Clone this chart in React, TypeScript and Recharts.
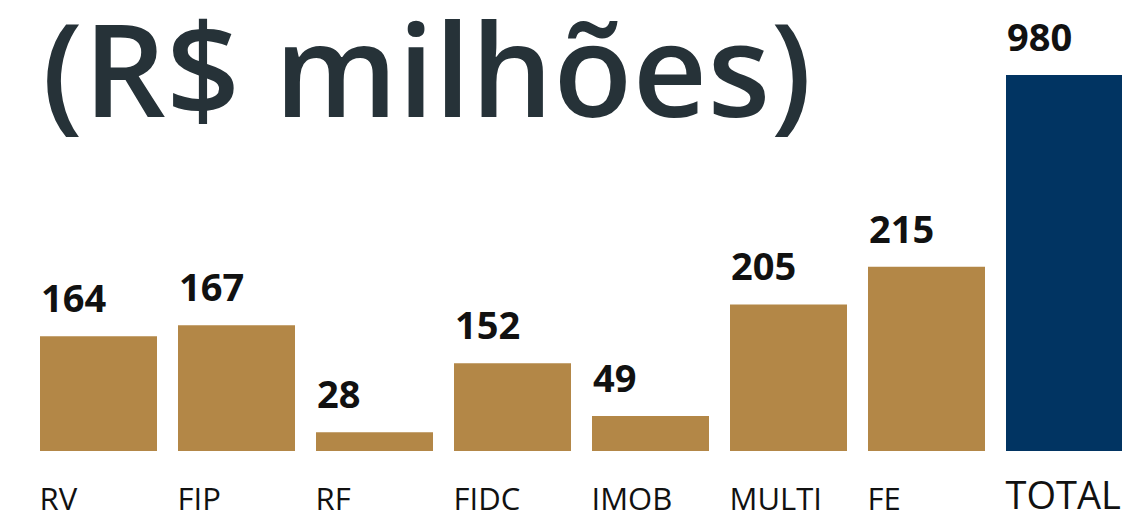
import { BarChart, Bar, XAxis, YAxis, Cell, LabelList } from "recharts";

// categories and the printed values (R$ milhões)
const categories = ["RV", "FIP", "RF", "FIDC", "IMOB", "MULTI", "FE", "TOTAL"];
const values = [164, 167, 28, 152, 49, 205, 215, 980];
// the bars in the original are not drawn to scale; heights,
// in the same units as the TOTAL bar (980)
const barHeights = [299, 328, 49, 229, 91, 382, 480, 980];

const GOLD = "#B38747";
const NAVY = "#013462";

const data = categories.map((name, i) => ({
  name,
  value: values[i],
  height: barHeights[i],
}));

const W = 1134;
const H = 514;
const MARGIN = { top: 75, right: 1, bottom: 0, left: 29 };
const AXIS_H = 63;
const BAR = 117;

const ValueLabel = (props: any) => {
  const { x, y, value } = props;
  return (
    <text
      x={x + 1}
      y={y - 24}
      fontFamily="'Open Sans', sans-serif"
      fontWeight={700}
      fontSize={38}
      fill="#111"
    >
      {value}
    </text>
  );
};

const CategoryTick = (props: any) => {
  const { x, payload } = props;
  const isTotal = payload.value === "TOTAL";
  return (
    <text
      x={x - BAR / 2}
      y={isTotal ? 509 : 510}
      fontFamily="'Open Sans', sans-serif"
      fontSize={isTotal ? 38 : 31}
      fill="#111"
      textAnchor="start"
    >
      {payload.value}
    </text>
  );
};

export default function App() {
  return (
    <div
      style={{
        position: "fixed",
        left: 0,
        top: 0,
        width: 1122,
        height: 514,
        overflow: "hidden",
        background: "#fff",
      }}
    >
      <svg
        width={1122}
        height={514}
        style={{ position: "absolute", left: 0, top: 0, pointerEvents: "none" }}
      >
        <text
          x={42}
          y={117}
          fontFamily="'Open Sans', sans-serif"
          fontWeight={600}
          fontSize={129}
          letterSpacing={0.5}
          fill="#263238"
        >
          (R$ milhões)
        </text>
      </svg>
      <BarChart width={W} height={H} data={data} margin={MARGIN} barSize={BAR}>
        <XAxis
          dataKey="name"
          axisLine={false}
          tickLine={false}
          height={AXIS_H}
          interval={0}
          tick={<CategoryTick />}
        />
        <YAxis hide domain={[0, 980]} />
        <Bar dataKey="height" isAnimationActive={false}>
          {data.map((d, i) => (
            <Cell key={`c-${i}`} fill={d.name === "TOTAL" ? NAVY : GOLD} />
          ))}
          <LabelList dataKey="value" content={<ValueLabel />} />
        </Bar>
      </BarChart>
    </div>
  );
}
